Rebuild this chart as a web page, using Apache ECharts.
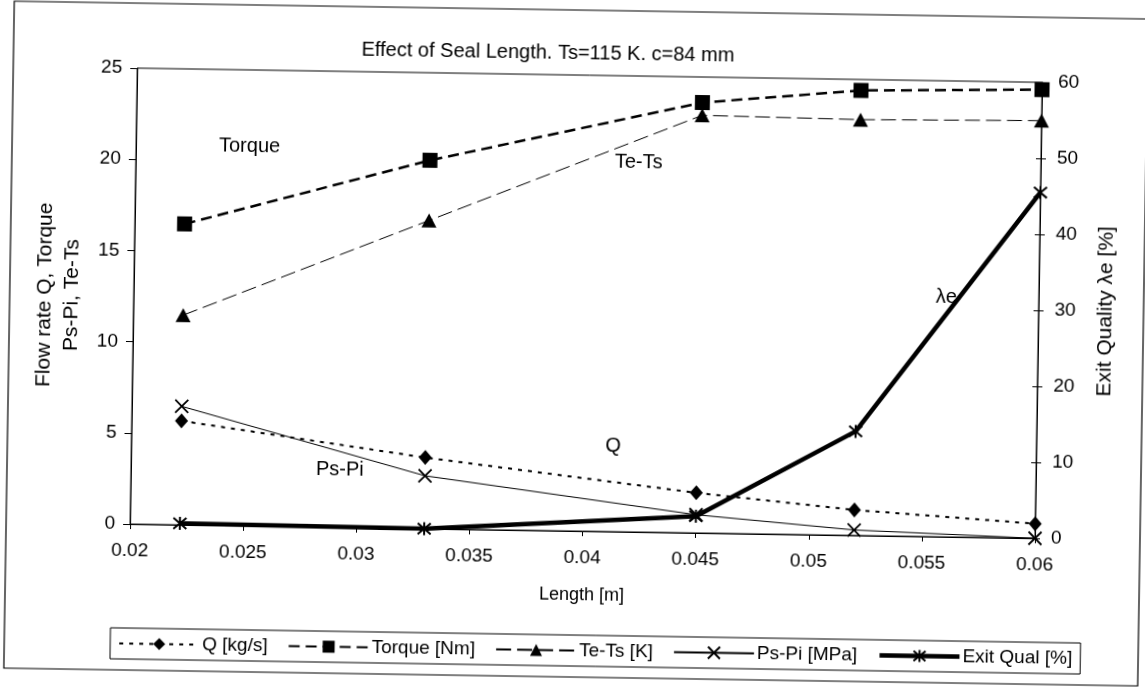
<!DOCTYPE html>
<html lang="en">
  <head>
    <meta charset="UTF-8" />
    <title>Effect of Seal Length</title>
    <script src="https://cdn.jsdelivr.net/npm/echarts@6/dist/echarts.min.js"></script>
    <style>
      body {
        margin: 0;
        background: #fff;
        overflow: hidden;
      }
      /* the source is a slightly tilted scan */
      #main {
        width: 1145px;
        height: 687px;
        transform: rotate(0.9deg);
        transform-origin: 572px 343px;
      }
    </style>
  </head>
  <body>
    <div id="main"></div>
    <script>
      // seal length [m]
      var lengths = [0.0222, 0.033, 0.045, 0.052, 0.06];
      // left axis series
      var flowQ = [5.7, 3.9, 2.2, 1.4, 0.8];
      var torque = [16.5, 20.2, 23.6, 24.4, 24.6];
      var teTs = [11.5, 16.9, 22.9, 22.8, 22.9];
      var psPi = [6.5, 2.9, 1.0, 0.3, 0.0];
      // right axis series
      var exitQual = [0.2, 0.0, 2.2, 13.7, 45.5];

      var font = "Liberation Sans";

      function pairs(ys) {
        var out = [];
        for (var i = 0; i < lengths.length; i++) {
          out.push([lengths[i], ys[i]]);
        }
        return out;
      }

      var crossPath = "path://M0,0L10,10M10,0L0,10";
      var starPath = "path://M0,1L10,11M10,1L0,11M5,0L5,12";

      var myChart = echarts.init(document.getElementById("main"));
      var option = {
        backgroundColor: "#fff",
        animation: false,
        textStyle: { fontFamily: font, color: "#000" },
        title: {
          text: "Effect of Seal Length. Ts=115 K. c=84 mm",
          left: 352,
          top: 38,
          textStyle: { fontFamily: font, fontSize: 20, fontWeight: "normal", color: "#000" },
        },
        grid: {
          left: 133,
          right: 107,
          top: 75,
          bottom: 156,
          show: true,
          borderColor: "#000",
          borderWidth: 1,
        },
        legend: {
          left: 115,
          top: 635,
          borderColor: "#000",
          borderWidth: 1,
          padding: [6, 8],
          itemWidth: 80,
          itemHeight: 15,
          itemGap: 20,
          textStyle: { fontFamily: font, fontSize: 19, color: "#000", padding: [0, 0, 0, -2] },
          data: [
            { name: "Q [kg/s]" },
            { name: "Torque [Nm]" },
            { name: "Te-Ts [K]" },
            { name: "Ps-Pi [MPa]" },
            { name: "Exit Qual [%]", lineStyle: { width: 4.5 } },
          ],
        },
        xAxis: {
          type: "value",
          min: 0.02,
          max: 0.06,
          interval: 0.005,
          name: "Length [m]",
          nameLocation: "middle",
          nameGap: 55,
          nameTextStyle: { fontFamily: font, fontSize: 18, color: "#000" },
          splitLine: { show: false },
          axisLine: { lineStyle: { color: "#000" } },
          axisTick: { length: 5, lineStyle: { color: "#000" } },
          axisLabel: {
            fontFamily: font,
            fontSize: 19,
            color: "#000",
            margin: 17,
            formatter: function (v) {
              return String(parseFloat(v.toFixed(3)));
            },
          },
        },
        yAxis: [
          {
            type: "value",
            min: 0,
            max: 25,
            interval: 5,
            name: "Flow rate Q, Torque\nPs-Pi, Te-Ts",
            nameLocation: "middle",
            nameRotate: 90,
            nameGap: 48,
            nameTextStyle: { fontFamily: font, fontSize: 21, color: "#000", lineHeight: 27 },
            splitLine: { show: false },
            axisLine: { show: true, lineStyle: { color: "#000" } },
            axisTick: { length: 7, lineStyle: { color: "#000" } },
            axisLabel: { fontFamily: font, fontSize: 19, color: "#000", margin: 15 },
          },
          {
            type: "value",
            min: 0,
            max: 60,
            interval: 10,
            position: "right",
            name: "Exit Quality λe [%]",
            nameLocation: "middle",
            nameRotate: 90,
            nameGap: 57,
            nameTextStyle: { fontFamily: font, fontSize: 21, color: "#000" },
            splitLine: { show: false },
            axisLine: { show: true, lineStyle: { color: "#000" } },
            axisTick: { length: 5, lineStyle: { color: "#000" } },
            axisLabel: { fontFamily: font, fontSize: 19, color: "#000", margin: 16 },
          },
          {
            // inner half of the right axis cross ticks
            type: "value",
            min: 0,
            max: 60,
            interval: 10,
            position: "right",
            splitLine: { show: false },
            axisLine: { show: false },
            axisTick: { inside: true, length: 5, lineStyle: { color: "#000" } },
            axisLabel: { show: false },
          },
        ],
        series: [
          {
            name: "Q [kg/s]",
            type: "line",
            yAxisIndex: 0,
            symbol: "diamond",
            symbolSize: [13, 15],
            itemStyle: { color: "#000" },
            lineStyle: { color: "#000", width: 2, type: [4, 6] },
            data: pairs(flowQ),
          },
          {
            name: "Torque [Nm]",
            type: "line",
            yAxisIndex: 0,
            symbol: "rect",
            symbolSize: 15,
            itemStyle: { color: "#000" },
            lineStyle: { color: "#000", width: 2.5, type: [11, 6] },
            data: pairs(torque),
          },
          {
            name: "Te-Ts [K]",
            type: "line",
            yAxisIndex: 0,
            symbol: "triangle",
            symbolSize: [15, 14],
            itemStyle: { color: "#000" },
            lineStyle: { color: "#000", width: 1, type: [15, 6] },
            data: pairs(teTs),
          },
          {
            name: "Ps-Pi [MPa]",
            type: "line",
            yAxisIndex: 0,
            symbol: crossPath,
            symbolSize: 13,
            itemStyle: { color: "transparent", borderColor: "#000", borderWidth: 1.8 },
            lineStyle: { color: "#000", width: 1 },
            data: pairs(psPi),
          },
          {
            name: "Exit Qual [%]",
            type: "line",
            yAxisIndex: 1,
            symbol: starPath,
            symbolSize: 13,
            itemStyle: { color: "transparent", borderColor: "#000", borderWidth: 2 },
            lineStyle: { color: "#000", width: 4.5 },
            data: pairs(exitQual),
            z: 5,
          },
        ],
        graphic: [
          {
            type: "rect",
            shape: { x: 9, y: 10, width: 1134, height: 667 },
            style: { fill: "none", stroke: "#000", lineWidth: 1.2 },
            silent: true,
          },
          { type: "text", left: 216, top: 141, style: { text: "Torque", font: "20px " + font, fill: "#000" } },
          { type: "text", left: 612, top: 151, style: { text: "Te-Ts", font: "20px " + font, fill: "#000" } },
          { type: "text", left: 607, top: 435, style: { text: "Q", font: "20px " + font, fill: "#000" } },
          { type: "text", left: 318, top: 463, style: { text: "Ps-Pi", font: "20px " + font, fill: "#000" } },
          { type: "text", left: 935, top: 281, style: { text: "λe", font: "20px " + font, fill: "#000" } },
        ],
      };
      myChart.setOption(option);
    </script>
  </body>
</html>
